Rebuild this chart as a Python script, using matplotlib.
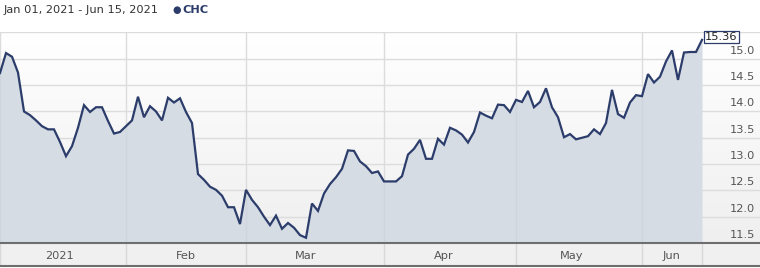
import numpy as np
import pandas as pd
import matplotlib
matplotlib.use("Agg")
import matplotlib.pyplot as plt
import matplotlib.transforms as mtransforms
from matplotlib.colors import LinearSegmentedColormap

# ---- data ----
dates = pd.bdate_range("2021-01-01", "2021-06-15")
prices = [
    14.73, 15.11, 15.04, 14.74, 14.00, 13.93, 13.83, 13.72, 13.66, 13.66,
    13.42, 13.15, 13.34, 13.69, 14.12, 13.99, 14.08, 14.08, 13.82, 13.58,
    13.61, 13.72, 13.83, 14.28, 13.89, 14.10, 14.00, 13.83, 14.26, 14.17,
    14.25, 13.99, 13.78, 12.81, 12.70, 12.57, 12.51, 12.40, 12.18, 12.18,
    11.86, 12.51, 12.32, 12.18, 12.00, 11.84, 12.02, 11.77, 11.88, 11.79,
    11.65, 11.60, 12.25, 12.11, 12.44, 12.62, 12.75, 12.91, 13.26, 13.25,
    13.05, 12.96, 12.83, 12.86, 12.67, 12.67, 12.67, 12.77, 13.18, 13.29,
    13.46, 13.10, 13.10, 13.48, 13.37, 13.69, 13.64, 13.56, 13.41, 13.61,
    13.98, 13.92, 13.87, 14.13, 14.12, 13.99, 14.22, 14.18, 14.39, 14.08,
    14.18, 14.44, 14.08, 13.89, 13.51, 13.57, 13.47, 13.50, 13.53, 13.66,
    13.57, 13.78, 14.41, 13.95, 13.88, 14.17, 14.31, 14.29, 14.71, 14.55,
    14.66, 14.95, 15.16, 14.60, 15.12, 15.13, 15.13, 15.36,
]
ticker = "CHC"
range_label = "Jan 01, 2021 - Jun 15, 2021"
y_ticks = [11.5, 12.0, 12.5, 13.0, 13.5, 14.0, 14.5, 15.0]
month_starts = ["2021-01-01", "2021-02-01", "2021-03-01", "2021-04-01", "2021-05-01", "2021-06-01"]
month_label_dates = ["2021-01-15", "2021-02-15", "2021-03-15", "2021-04-15", "2021-05-15", "2021-06-08"]
month_labels = ["2021", "Feb", "Mar", "Apr", "May", "Jun"]

LINE = "#2c3d6b"
FILL = "#d5dce4"
GRID = "#dcdcdc"
TXT = "#555555"

W, H = 760, 268
fig = plt.figure(figsize=(W / 100, H / 100), dpi=100)
fig.patch.set_facecolor("white")

idx = np.arange(len(prices))
step_px = 6.0
xmax = W / step_px

# main plot area: y from 32 px to 243 px
ax = fig.add_axes([0, (H - 243) / H, 1, (243 - 32) / H])
ax.set_xlim(0, xmax)
ax.set_ylim(11.5, 15.51)
for s in ax.spines.values():
    s.set_visible(False)
ax.set_xticks([])
ax.set_yticks([])

# gradient background
cmap = LinearSegmentedColormap.from_list("bg", ["#efefef", "#ffffff"])
grad = np.linspace(0, 1, 256).reshape(-1, 1)
ax.imshow(grad, aspect="auto", cmap=cmap, origin="lower",
          extent=[0, 1, 0, 1], transform=ax.transAxes, zorder=0)

# grid
for yv in y_ticks + [15.51]:
    ax.axhline(yv, color=GRID, lw=1.0, zorder=1)
start_idx = [int(np.searchsorted(dates, pd.Timestamp(d))) for d in month_starts]
for si in start_idx:
    ax.axvline(si, color=GRID, lw=1.0, zorder=1)

# area + line
ax.fill_between(idx, prices, 11.5, color=FILL, zorder=2, lw=0)
for si in start_idx:
    ax.plot([si, si], [11.5, np.interp(si, idx, prices)], color="#cfd5dc", lw=1.0, zorder=2.5)
ax.plot(idx, prices, color=LINE, lw=1.6, zorder=3, solid_joinstyle="miter")

# y labels (above their grid lines, right aligned)
trans = mtransforms.blended_transform_factory(ax.transAxes, ax.transData)
trans = mtransforms.offset_copy(trans, fig=fig, x=-5, y=3, units="dots")
for yv in y_ticks:
    ax.text(1.0, yv, f"{yv:.1f}", transform=trans, ha="right", va="bottom",
            fontsize=8.2, color=TXT, zorder=4)

# last value box
ax.annotate(f"{prices[-1]:.2f}", xy=(idx[-1], prices[-1]), xytext=(3, 3),
            textcoords="offset pixels", ha="left", va="center", fontsize=8.2,
            color="#222222", zorder=5,
            bbox=dict(boxstyle="square,pad=0.12", fc="white", ec=LINE, lw=0.9))

# bottom axis band: 243 px to 266 px
bx = fig.add_axes([0, (H - 266) / H, 1, (266 - 243) / H])
bx.set_xlim(0, xmax)
bx.set_ylim(0, 1)
bx.set_facecolor("#f0f0f0")
bx.set_xticks([])
bx.set_yticks([])
for k in ["left", "right"]:
    bx.spines[k].set_visible(False)
bx.spines["top"].set_color("#6e6e6e")
bx.spines["top"].set_linewidth(1.5)
bx.spines["bottom"].set_color("#6e6e6e")
bx.spines["bottom"].set_linewidth(1.5)
for si in start_idx + [len(prices) - 1]:
    bx.axvline(si, color="#d8d8d8", lw=1.0)
label_pos = [np.interp(pd.Timestamp(d).value, dates.asi8, idx) for d in month_label_dates]
for lp, lab in zip(label_pos, month_labels):
    bx.text(lp, 0.45, lab, ha="center", va="center", fontsize=8.2, color=TXT)

# header
fig.text(4 / W, 1 - 10 / H, range_label, ha="left", va="center", fontsize=8.2, color="#333333")
fig.text(172 / W, 1 - 9.5 / H, "\u25cf", ha="left", va="center", fontsize=7, color=LINE)
fig.text(182 / W, 1 - 10 / H, ticker, ha="left", va="center", fontsize=8.2,
         color=LINE, fontweight="bold")

fig.savefig("out.png", dpi=100, facecolor="white")
